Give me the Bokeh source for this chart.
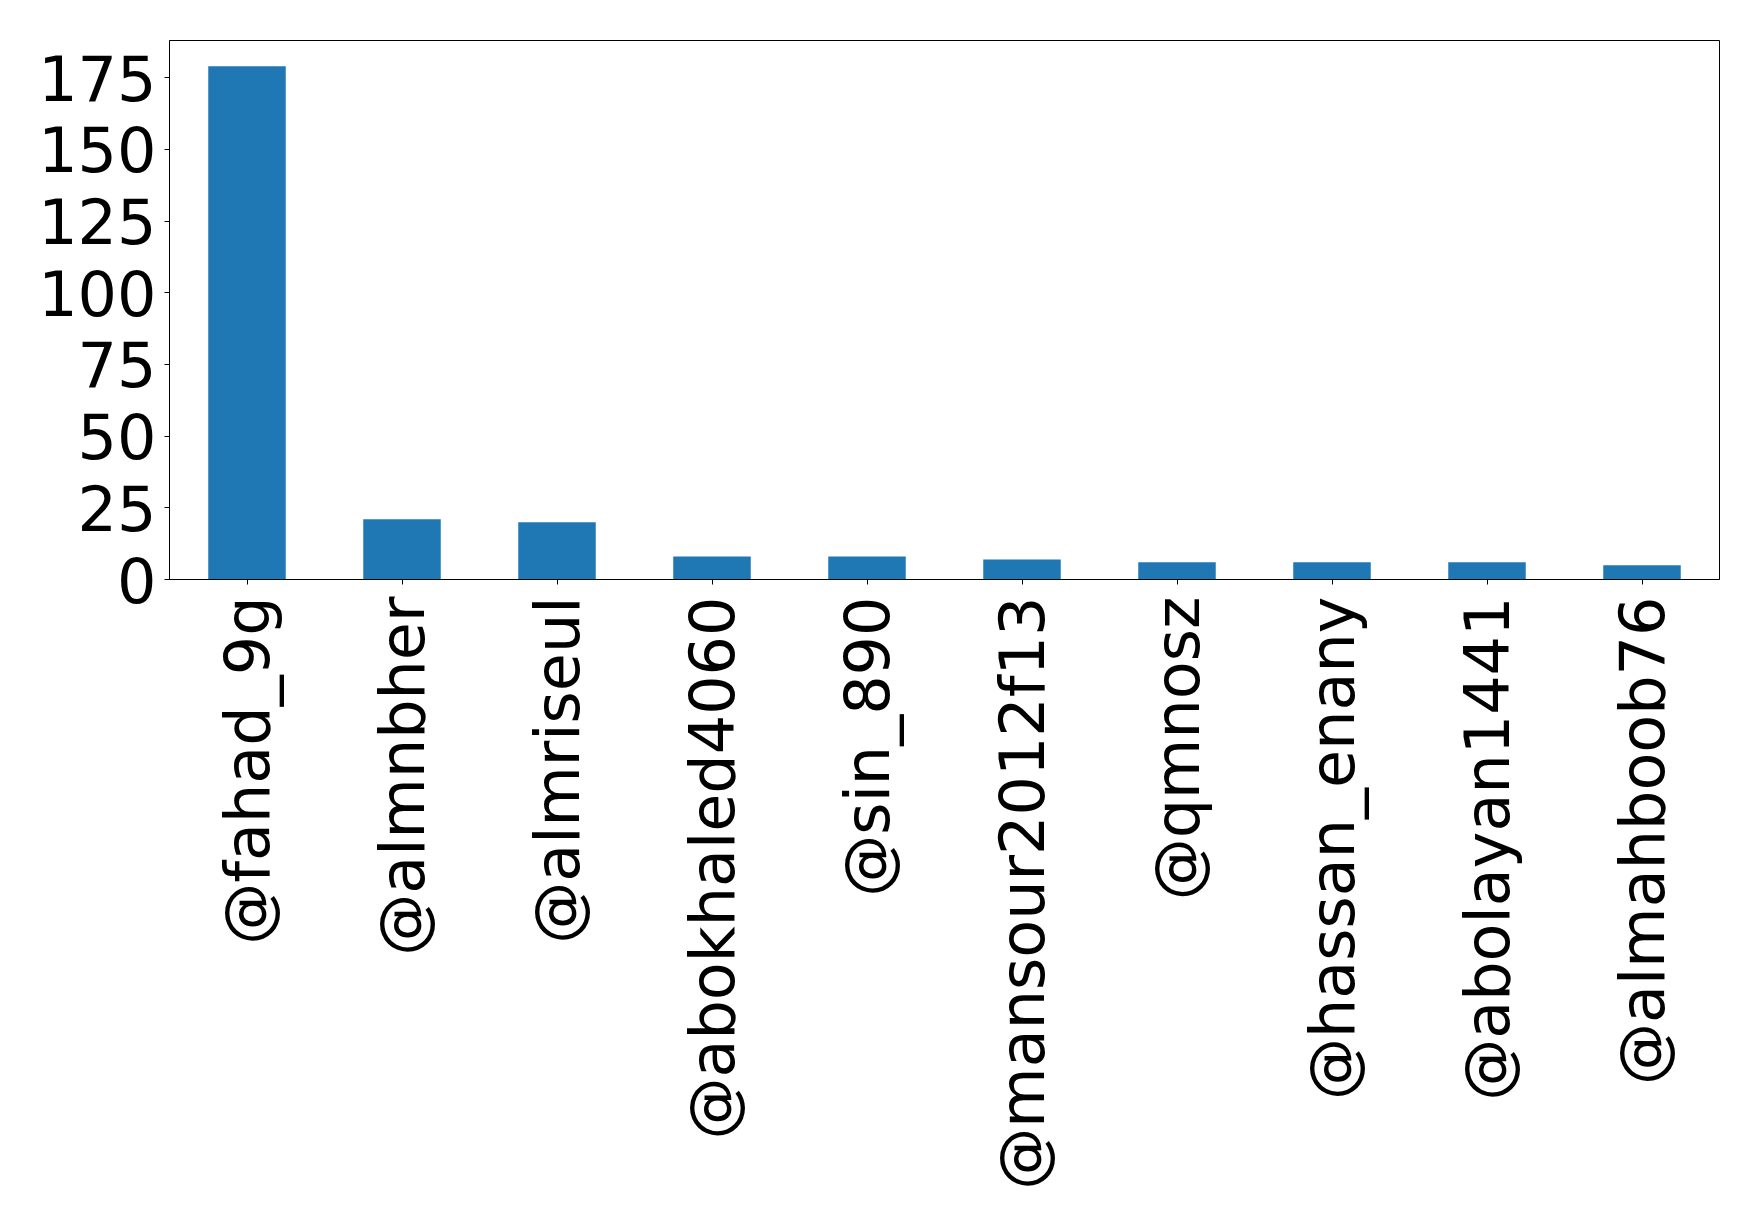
import math
from bokeh.plotting import figure
from bokeh.models import FactorRange, Range1d, FixedTicker, ColumnDataSource
from bokeh.embed import file_html
from bokeh.resources import INLINE

users = ["@fahad_9g", "@almnbher", "@almriseul", "@abokhaled4060", "@sin_890",
         "@mansour2012f13", "@qmnosz", "@hassan_enany", "@abolayan1441", "@almahboob76"]
counts = [179, 21, 20, 8, 8, 7, 6, 6, 6, 5]
y_ticks = [0, 25, 50, 75, 100, 125, 150, 175]

source = ColumnDataSource(data=dict(user=users, count=counts))

p = figure(width=1742, height=1210,
           x_range=FactorRange(factors=users, range_padding=0),
           y_range=Range1d(0, max(counts) * 1.05),
           output_backend="svg", toolbar_location=None,
           min_border_left=169, min_border_right=23,
           min_border_top=40, min_border_bottom=631)

p.vbar(x="user", top="count", width=0.5, source=source,
       fill_color="#1f77b4", line_color=None)

p.xgrid.visible = False
p.ygrid.visible = False
p.outline_line_color = "black"
p.outline_line_width = 1
p.background_fill_color = "white"
p.border_fill_color = "white"

for ax in (p.xaxis[0], p.yaxis[0]):
    ax.axis_line_color = "black"
    ax.axis_line_width = 1
    ax.major_tick_line_color = "black"
    ax.major_tick_out = 5
    ax.major_tick_in = 0
    ax.minor_tick_line_color = None
    ax.major_label_text_font = "DejaVu Sans"
    ax.major_label_text_font_size = "62px"
    ax.major_label_text_color = "black"

p.yaxis[0].ticker = FixedTicker(ticks=y_ticks)
p.yaxis[0].major_label_standoff = 8
p.xaxis[0].major_label_orientation = math.pi / 2
p.xaxis[0].major_label_standoff = 12

open("out.html", "w").write(file_html(p, INLINE))
